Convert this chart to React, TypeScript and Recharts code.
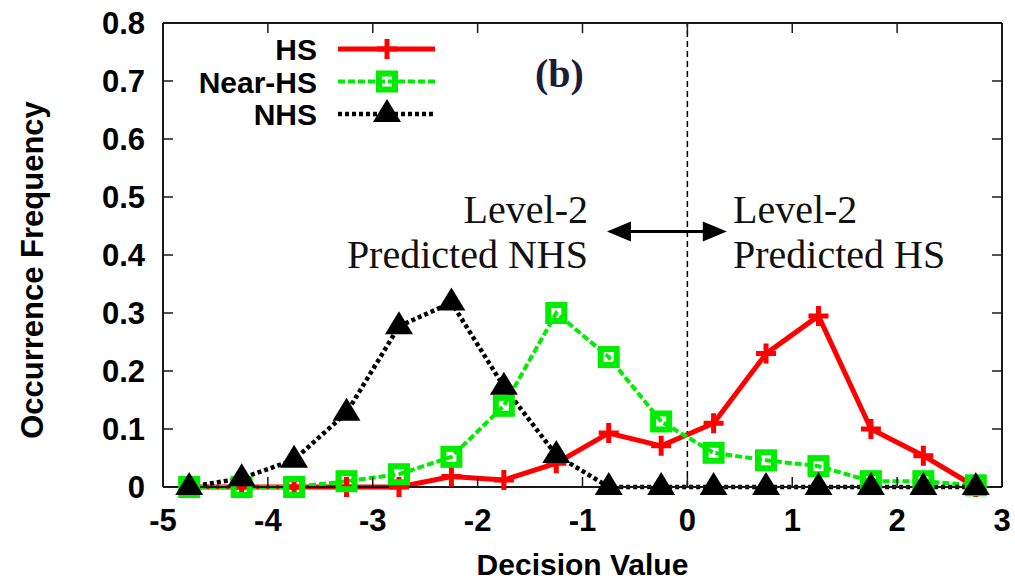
import { LineChart, Line, XAxis, YAxis, ReferenceLine, ReferenceDot, Legend } from 'recharts';

// decision value bins (centres)
const decisionValues = [-4.75, -4.25, -3.75, -3.25, -2.75, -2.25, -1.75, -1.25, -0.75, -0.25, 0.25, 0.75, 1.25, 1.75, 2.25, 2.75];
const hsFreq = [0, 0, 0, 0, 0, 0.018, 0.012, 0.041, 0.093, 0.071, 0.11, 0.23, 0.295, 0.1, 0.054, 0];
const nearHsFreq = [0, 0, 0, 0.01, 0.022, 0.052, 0.14, 0.3, 0.224, 0.113, 0.059, 0.046, 0.036, 0.01, 0.01, 0.003];
const nhsFreq = [0, 0.015, 0.047, 0.128, 0.277, 0.318, 0.173, 0.055, 0, 0, 0, 0, 0, 0, 0, 0];

const xTicks = [-5, -4, -3, -2, -1, 0, 1, 2, 3];
const yTicks = [0, 0.1, 0.2, 0.3, 0.4, 0.5, 0.6, 0.7, 0.8];

const data = decisionValues.map((x, i) => ({ x, hs: hsFreq[i], nearHs: nearHsFreq[i], nhs: nhsFreq[i] }));

const SANS = '"Liberation Sans", Arial, sans-serif';
const SERIF = '"Liberation Serif", "Times New Roman", serif';
const RED = '#ff0000';
const GREEN = '#00ec00';
const FRAME = '#1a1a1a';

const seriesOrder = ['hs', 'nearHs', 'nhs'];
const seriesStyle: Record<string, { dash?: string; width: number; marker: string }> = {
  hs: { width: 5, marker: 'plus' },
  nearHs: { dash: '7 3', width: 4, marker: 'square' },
  nhs: { dash: '4 3', width: 4.5, marker: 'triangle' },
};

function Marker({ kind, cx, cy, color }: { kind: string; cx: number; cy: number; color: string }) {
  if (kind === 'plus') {
    return <path d={`M${cx - 10},${cy}H${cx + 10}M${cx},${cy - 10}V${cy + 10}`} stroke={color} strokeWidth={5} fill="none" />;
  }
  if (kind === 'square') {
    return <rect x={cx - 8} y={cy - 8} width={16} height={16} fill="none" stroke={color} strokeWidth={6} />;
  }
  return <path d={`M${cx},${cy - 15}L${cx + 14},${cy + 8}L${cx - 14},${cy + 8}Z`} fill={color} />;
}

const dotFor = (kind: string, color: string) => (p: any) => (
  <Marker key={`${kind}-${p.index}`} kind={kind} cx={p.cx} cy={p.cy} color={color} />
);

const BottomTick = (p: any) => (
  <g>
    <line x1={p.x} y1={p.y} x2={p.x} y2={p.y - 10} stroke={FRAME} strokeWidth={1.5} />
    <text x={p.x} y={p.y + 44} textAnchor="middle" fontFamily={SANS} fontWeight="bold" fontSize={31} fill="#000">
      {p.payload.value}
    </text>
  </g>
);

const TopTick = (p: any) => <line x1={p.x} y1={p.y} x2={p.x} y2={p.y + 10} stroke={FRAME} strokeWidth={1.5} />;

const LeftTick = (p: any) => (
  <g>
    <line x1={p.x} y1={p.y} x2={p.x + 10} y2={p.y} stroke={FRAME} strokeWidth={1.5} />
    <text x={p.x - 18} y={p.y + 11} textAnchor="end" fontFamily={SANS} fontWeight="bold" fontSize={31} fill="#000">
      {p.payload.value === 0 ? '0' : p.payload.value.toFixed(1)}
    </text>
  </g>
);

const RightTick = (p: any) => <line x1={p.x} y1={p.y} x2={p.x - 10} y2={p.y} stroke={FRAME} strokeWidth={1.5} />;

const XTitle = (p: any) => {
  const vb = p.viewBox;
  return (
    <text x={vb.x + vb.width / 2} y={vb.y + 88} textAnchor="middle" fontFamily={SANS} fontWeight="bold" fontSize={30} fill="#000">
      Decision Value
    </text>
  );
};

const YTitle = (p: any) => {
  const vb = p.viewBox;
  const cx = vb.x + 43;
  const cy = vb.y + vb.height / 2 + 15;
  return (
    <text x={cx} y={cy} transform={`rotate(-90, ${cx}, ${cy})`} textAnchor="middle" fontFamily={SANS} fontWeight="bold" fontSize={31} fill="#000">
      Occurrence Frequency
    </text>
  );
};

const note = (text: string, anchor: 'start' | 'end' | 'middle', size = 40, weight = 'normal', color = '#111') => (p: any) => (
  <text x={p.cx} y={p.cy} textAnchor={anchor} fontFamily={SERIF} fontSize={size} fontWeight={weight} fill={color}>
    {text}
  </text>
);

const DoubleArrow = (p: any) => {
  const { x1, y1, x2, y2 } = p;
  const h = 24;
  const w = 10;
  return (
    <g>
      <line x1={x1 + h - 2} y1={y1} x2={x2 - h + 2} y2={y2} stroke="#000" strokeWidth={3} />
      <path d={`M${x1},${y1}L${x1 + h},${y1 - w}L${x1 + h},${y1 + w}Z`} fill="#000" />
      <path d={`M${x2},${y2}L${x2 - h},${y2 - w}L${x2 - h},${y2 + w}Z`} fill="#000" />
    </g>
  );
};

const renderLegend = (props: any) => {
  const payload = [...(props.payload || [])].sort(
    (a: any, b: any) => seriesOrder.indexOf(a.dataKey) - seriesOrder.indexOf(b.dataKey)
  );
  return (
    <svg width={450} height={140} style={{ display: 'block' }}>
      {payload.map((entry: any, i: number) => {
        const st = seriesStyle[entry.dataKey];
        const y = 49 + i * 32.5;
        return (
          <g key={entry.value}>
            <text x={317} y={y + 11} textAnchor="end" fontFamily={SANS} fontWeight="bold" fontSize={30} fill="#000">
              {entry.value}
            </text>
            <line x1={338} y1={y} x2={435} y2={y} stroke={entry.color} strokeWidth={st.width} strokeDasharray={st.dash} />
            <Marker kind={st.marker} cx={387} cy={y} color={entry.color} />
          </g>
        );
      })}
    </svg>
  );
};

export default function App() {
  return (
    <div style={{ width: 1015, height: 581, background: '#fff' }}>
      <style>{'body{margin:0}'}</style>
      <LineChart width={1015} height={581} data={data} margin={{ top: 0, right: 0, bottom: 0, left: 0 }}>
        <XAxis
          dataKey="x"
          type="number"
          domain={[-5, 3]}
          ticks={xTicks}
          interval={0}
          height={94}
          tickSize={0}
          tickMargin={0}
          tickLine={false}
          axisLine={{ stroke: FRAME, strokeWidth: 2 }}
          tick={BottomTick}
          label={XTitle}
        />
        <XAxis
          xAxisId="top"
          orientation="top"
          dataKey="x"
          type="number"
          domain={[-5, 3]}
          ticks={xTicks}
          interval={0}
          height={23}
          tickSize={0}
          tickMargin={0}
          tickLine={false}
          allowDataOverflow
          axisLine={{ stroke: FRAME, strokeWidth: 2 }}
          tick={TopTick}
        />
        <YAxis
          type="number"
          domain={[0, 0.8]}
          ticks={yTicks}
          interval={0}
          width={163}
          tickSize={0}
          tickMargin={0}
          tickLine={false}
          axisLine={{ stroke: FRAME, strokeWidth: 2 }}
          tick={LeftTick}
          label={YTitle}
        />
        <YAxis
          yAxisId="right"
          orientation="right"
          type="number"
          domain={[0, 0.8]}
          ticks={yTicks}
          interval={0}
          width={13}
          tickSize={0}
          tickMargin={0}
          tickLine={false}
          allowDataOverflow
          axisLine={{ stroke: FRAME, strokeWidth: 2 }}
          tick={RightTick}
        />
        <ReferenceLine x={0} stroke="#000" strokeWidth={1.5} strokeDasharray="6 4" />
        <ReferenceLine
          segment={[{ x: -0.767, y: 0.4406 }, { x: 0.376, y: 0.4406 }]}
          shape={DoubleArrow}
        />
        <ReferenceDot x={-0.948} y={0.456} r={0} shape={note('Level-2', 'end')} />
        <ReferenceDot x={-0.948} y={0.378} r={0} shape={note('Predicted NHS', 'end')} />
        <ReferenceDot x={0.435} y={0.456} r={0} shape={note('Level-2', 'start')} />
        <ReferenceDot x={0.435} y={0.378} r={0} shape={note('Predicted HS', 'start')} />
        <ReferenceDot x={-1.22} y={0.689} r={0} shape={note('(b)', 'middle', 40, 'bold', '#1c1c3a')} />
        <Legend
          layout="vertical"
          align="center"
          verticalAlign="middle"
          wrapperStyle={{ left: 0, top: 0, width: 450, height: 140 }}
          content={renderLegend}
        />
        <Line
          dataKey="hs"
          name="HS"
          stroke={RED}
          strokeWidth={seriesStyle.hs.width}
          dot={dotFor('plus', RED)}
          activeDot={false}
          isAnimationActive={false}
        />
        <Line
          dataKey="nearHs"
          name="Near-HS"
          stroke={GREEN}
          strokeWidth={seriesStyle.nearHs.width}
          strokeDasharray={seriesStyle.nearHs.dash}
          dot={dotFor('square', GREEN)}
          activeDot={false}
          isAnimationActive={false}
        />
        <Line
          dataKey="nhs"
          name="NHS"
          stroke="#000"
          strokeWidth={seriesStyle.nhs.width}
          strokeDasharray={seriesStyle.nhs.dash}
          dot={dotFor('triangle', '#000')}
          activeDot={false}
          isAnimationActive={false}
        />
      </LineChart>
    </div>
  );
}
